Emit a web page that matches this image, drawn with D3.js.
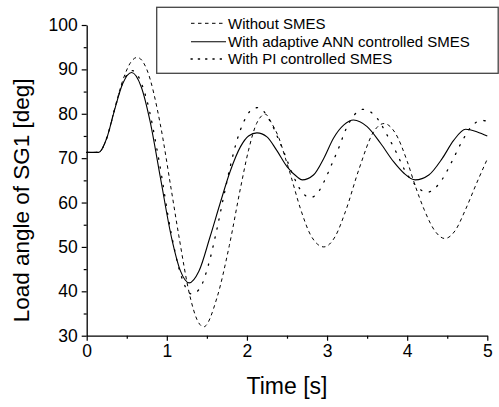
<!DOCTYPE html>
<html>
<head>
<meta charset="utf-8">
<script src="https://cdn.jsdelivr.net/npm/d3@7"></script>
<style>
  html, body { margin: 0; padding: 0; background: #fff; }
  svg { display: block; font-family: Arial, "Liberation Sans", Helvetica, sans-serif; }
</style>
</head>
<body>
<svg id="chart" width="499" height="407"></svg>
<script>
// ---------- data ----------
const seriesNames = ["Without SMES", "With adaptive ANN controlled SMES", "With PI controlled SMES"];

const timeWithout = [0, 0.15, 0.25, 0.35, 0.45, 0.55, 0.63, 0.75, 0.92, 1.05, 1.15, 1.29, 1.38, 1.46,
  1.625, 1.78, 1.92, 2.02, 2.12, 2.23, 2.31, 2.40, 2.48, 2.54, 2.67, 2.80, 2.96,
  3.10, 3.23, 3.40, 3.58, 3.71, 3.85, 4.00, 4.10, 4.21, 4.35, 4.47, 4.60, 4.73, 4.87, 5.00];
const valWithout = [71.3, 71.3, 74.5, 81.2, 87.5, 91.6, 92.7, 90.0, 77.5, 63.5, 52.5, 38.8, 33.5, 32.0,
  38.5, 50.3, 63.3, 71.8, 77.8, 79.9, 77.8, 74.5, 70.0, 66.5, 58.5, 52.5, 50.0,
  52.3, 58.0, 67.6, 75.9, 77.8, 75.7, 69.3, 63.8, 58.5, 53.5, 51.9, 53.7, 58.5, 64.5, 69.8];

const timeANN = [0, 0.15, 0.25, 0.35, 0.45, 0.56, 0.68, 0.79, 0.92, 1.06, 1.17, 1.28,
  1.40, 1.54, 1.66, 1.79, 1.92, 2.02, 2.125, 2.25, 2.37, 2.50, 2.625, 2.69,
  2.83, 2.96, 3.08, 3.21, 3.33, 3.50, 3.67, 3.83, 3.96, 4.10,
  4.27, 4.44, 4.58, 4.73, 4.875, 5.00];
const valANN = [71.3, 71.3, 74.5, 81.0, 86.8, 89.3, 86.1, 78.4, 65.6, 52.0, 44.6, 41.9,
  44.5, 52.3, 59.5, 67.0, 72.6, 75.0, 75.7, 74.8, 71.8, 68.1, 65.8, 65.1,
  66.2, 70.0, 74.5, 77.5, 78.6, 77.1, 73.3, 69.2, 66.6, 65.1,
  66.2, 70.0, 74.0, 76.5, 75.9, 75.0];

const timePI = [0, 0.15, 0.25, 0.35, 0.45, 0.57, 0.75, 0.90, 1.05, 1.17, 1.31,
  1.41, 1.52, 1.625, 1.70, 1.79, 1.875, 1.96, 2.04, 2.14,
  2.29, 2.40, 2.48, 2.56, 2.69, 2.79,
  2.90, 2.96, 3.06, 3.15, 3.23, 3.31, 3.45,
  3.62, 3.75, 3.875, 3.96, 4.08, 4.25,
  4.35, 4.44, 4.56, 4.67, 4.82, 4.94, 5.00];
const valPI = [71.3, 71.3, 74.5, 81.1, 87.0, 89.7, 83.1, 69.7, 53.5, 44.0, 39.4,
  40.6, 46.0, 54.0, 60.5, 68.0, 74.0, 78.2, 80.6, 81.4,
  78.3, 74.0, 70.5, 66.8, 62.3, 61.1,
  62.6, 64.6, 68.7, 72.5, 76.3, 79.0, 81.0,
  79.1, 75.2, 70.9, 67.6, 64.4, 62.3,
  63.3, 65.3, 69.3, 73.3, 77.5, 78.5, 78.3];

const xTicks = [0, 1, 2, 3, 4, 5];
const xMinorTicks = [0.5, 1.5, 2.5, 3.5, 4.5];
const yTicks = [30, 40, 50, 60, 70, 80, 90, 100];
const yMinorTicks = [35, 45, 55, 65, 75, 85, 95];

// ---------- layout ----------
const svg = d3.select("#chart");
const x = d3.scaleLinear().domain([0, 5]).range([86.7, 487.3]);
const y = d3.scaleLinear().domain([30, 100]).range([335.7, 25]);

const styles = [
  { dash: "3.5,3.5", width: 1.0 },
  { dash: null, width: 1.1 },
  { dash: "1.3,8", width: 1.3 }
];

const allSeries = [
  { t: timeWithout, v: valWithout },
  { t: timeANN, v: valANN },
  { t: timePI, v: valPI }
];

const line = d3.line()
  .x(d => x(d[0]))
  .y(d => y(d[1]))
  .curve(d3.curveMonotoneX);

allSeries.forEach((s, i) => {
  const pts = s.t.map((t, k) => [t, s.v[k]]);
  svg.append("path")
    .datum(pts)
    .attr("d", line)
    .attr("fill", "none")
    .attr("stroke", "#000")
    .attr("stroke-width", styles[i].width)
    .attr("stroke-dasharray", styles[i].dash)
    .attr("stroke-linecap", i === 2 ? "round" : "butt");
});

// ---------- axes ----------
const xAxis = svg.append("g")
  .attr("transform", `translate(0,${y(30)})`)
  .call(d3.axisBottom(x).tickValues(xTicks).tickSize(5).tickSizeOuter(0).tickPadding(4)
    .tickFormat(d3.format("d")));
xAxis.select(".domain").attr("stroke-width", 1.3);
xAxis.selectAll(".tick line").attr("stroke-width", 1.2);
xAxis.selectAll(".tick text").attr("font-size", 17.5).attr("font-family", "Arial, 'Liberation Sans', sans-serif").attr("fill", "#000");

svg.append("g")
  .attr("transform", `translate(0,${y(30)})`)
  .call(d3.axisBottom(x).tickValues(xMinorTicks).tickSize(3).tickSizeOuter(0).tickFormat(""))
  .call(g => g.select(".domain").remove())
  .selectAll(".tick line").attr("stroke-width", 1.2);

const yAxis = svg.append("g")
  .attr("transform", `translate(${x(0)},0)`)
  .call(d3.axisLeft(y).tickValues(yTicks).tickSize(5).tickSizeOuter(0).tickPadding(4)
    .tickFormat(d3.format("d")));
yAxis.select(".domain").attr("stroke-width", 1.3);
yAxis.selectAll(".tick line").attr("stroke-width", 1.2);
yAxis.selectAll(".tick text").attr("font-size", 17.5).attr("font-family", "Arial, 'Liberation Sans', sans-serif").attr("fill", "#000");

svg.append("g")
  .attr("transform", `translate(${x(0)},0)`)
  .call(d3.axisLeft(y).tickValues(yMinorTicks).tickSize(3).tickSizeOuter(0).tickFormat(""))
  .call(g => g.select(".domain").remove())
  .selectAll(".tick line").attr("stroke-width", 1.2);

// ---------- axis titles ----------
svg.append("text")
  .attr("x", (x(0) + x(5)) / 2)
  .attr("y", 394)
  .attr("text-anchor", "middle")
  .attr("font-size", 23)
  .text("Time [s]");

svg.append("text")
  .attr("transform", `translate(29,${(y(30) + y(100)) / 2 + 20}) rotate(-90)`)
  .attr("text-anchor", "middle")
  .attr("font-size", 22.5)
  .text("Load angle of SG1 [deg]");

// ---------- legend ----------
const legend = svg.append("g");
legend.append("rect")
  .attr("x", 156.7).attr("y", 7.3)
  .attr("width", 341.5).attr("height", 66)
  .attr("fill", "#fff")
  .attr("stroke", "#444")
  .attr("stroke-width", 1.3);

const rowsY = [23.3, 41.7, 59];
seriesNames.forEach((name, i) => {
  legend.append("line")
    .attr("x1", 191).attr("x2", 226)
    .attr("y1", rowsY[i]).attr("y2", rowsY[i])
    .attr("stroke", "#000")
    .attr("stroke-width", styles[i].width)
    .attr("stroke-dasharray", i === 2 ? "1.3,6" : styles[i].dash)
    .attr("stroke-linecap", i === 2 ? "round" : "butt");
  legend.append("text")
    .attr("x", 228)
    .attr("y", rowsY[i] + 5.3)
    .attr("font-size", 15)
    .text(name);
});
</script>
</body>
</html>
